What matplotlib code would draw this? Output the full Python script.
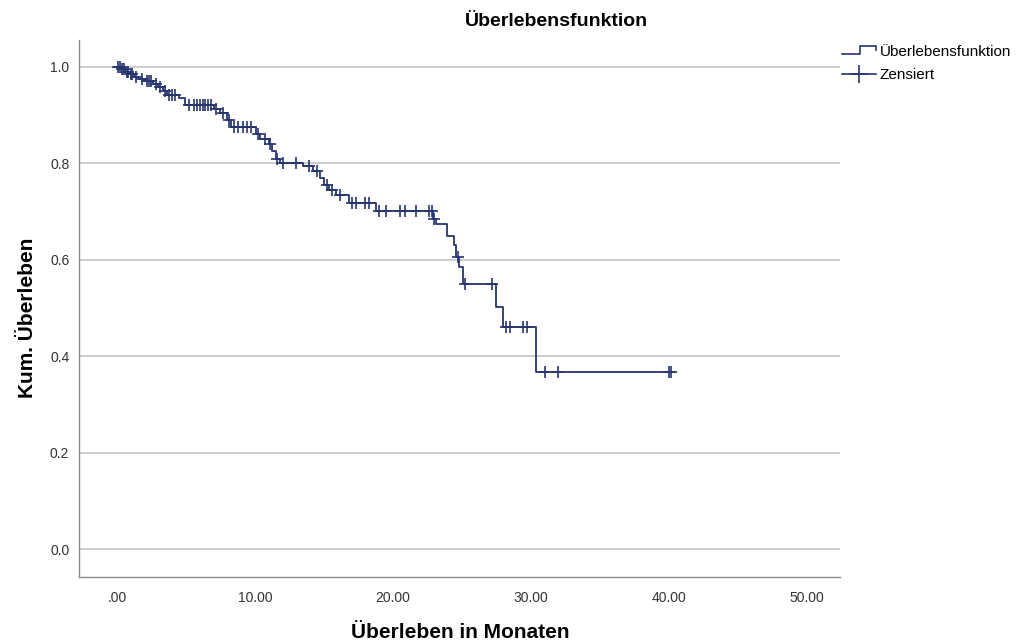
import numpy as np
import matplotlib

matplotlib.use("Agg")
import matplotlib.pyplot as plt
from matplotlib.lines import Line2D

plt.rcParams["font.family"] = ["Liberation Sans", "DejaVu Sans"]

# step times (months) and survival after each step
event_times = [0.3, 0.6, 0.9, 1.2, 1.6, 2.0, 2.6, 3.0, 3.3, 3.6, 4.5, 4.9,
               7.0, 7.5, 8.0, 8.3, 10.1, 10.4, 11.0, 11.2, 11.5, 11.8,
               13.5, 14.2, 14.7, 15.0, 15.4, 15.9, 16.8, 18.8, 22.9, 23.1,
               23.9, 24.4, 24.6, 24.8, 25.1, 27.5, 28.0, 30.4]
survival = [0.995, 0.99, 0.985, 0.98, 0.975, 0.97, 0.965, 0.958, 0.95, 0.942,
            0.935, 0.921, 0.913, 0.905, 0.89, 0.875, 0.86, 0.851, 0.84, 0.825,
            0.81, 0.80, 0.795, 0.785, 0.77, 0.755, 0.745, 0.735, 0.718, 0.701,
            0.685, 0.675, 0.65, 0.63, 0.605, 0.585, 0.55, 0.503, 0.46, 0.367]

censored = [0.1, 0.2, 0.4, 0.5, 0.7, 0.8, 1.0, 1.1, 1.4, 1.8, 2.2, 2.3, 2.5,
            2.8, 3.1, 3.5, 3.8, 4.0, 4.2, 5.2, 5.6, 5.8, 6.0, 6.2, 6.4, 6.6,
            6.8, 7.2, 7.7, 8.1, 8.5, 8.8, 9.1, 9.4, 9.7, 10.2, 10.7, 11.1,
            11.6, 12.0, 13.0, 13.9, 14.5, 15.2, 15.6, 16.2, 17.0, 17.3, 18.0,
            18.3, 19.0, 19.5, 20.5, 20.9, 21.7, 22.6, 22.85, 23.0, 24.7, 25.2,
            27.2, 28.2, 28.5, 29.4, 29.7, 31.0, 32.0, 40.0, 40.15]

x_ticks = [0, 10, 20, 30, 40, 50]
x_labels = [".00", "10.00", "20.00", "30.00", "40.00", "50.00"]
y_ticks = [0.0, 0.2, 0.4, 0.6, 0.8, 1.0]

navy = "#27356f"

t = np.concatenate([[0.0], event_times, [max(censored)]])
s = np.concatenate([[1.0], survival, [survival[-1]]])
cens_y = s[np.searchsorted(t, censored, side="right") - 1]

W, H = 1029, 644
def fx(px):
    return px / W
def fy(py):
    return 1 - py / H

fig = plt.figure(figsize=(10.29, 6.44), dpi=100)
ax = fig.add_axes([0.0768, 0.104, 0.7395, 0.834])

ax.step(t, s, where="post", color=navy, lw=1.3, zorder=3)
ax.plot(censored, cens_y, ls="none", marker="+", ms=8.5, mew=1.2, color=navy, zorder=4)

ax.set_xlim(-2.75, 52.4)
ax.set_ylim(-0.058, 1.056)
ax.set_xticks(x_ticks)
ax.set_xticklabels(x_labels)
ax.set_yticks(y_ticks)
ax.set_yticklabels([f"{v:.1f}" for v in y_ticks])
ax.tick_params(length=0, labelsize=10, labelcolor="#333333")
ax.tick_params(axis="x", pad=10)
ax.tick_params(axis="y", pad=7)
ax.grid(axis="y", color="#c4c4c4", lw=1.2)
ax.set_axisbelow(True)
for side in ("top", "right"):
    ax.spines[side].set_visible(False)
for side in ("left", "bottom"):
    ax.spines[side].set_color("#8a8a8a")
    ax.spines[side].set_linewidth(1.0)

fig.text(fx(460), fy(632), "Überleben in Monaten", ha="center", va="center",
         fontsize=15, fontweight="bold")
fig.text(fx(28), fy(318), "Kum. Überleben", ha="center", va="center",
         rotation=90, fontsize=15, fontweight="bold")
fig.text(fx(556), fy(22), "Überlebensfunktion", ha="center", va="center",
         fontsize=14, fontweight="bold")

# legend drawn by hand in figure pixels
fig.add_artist(Line2D([fx(842), fx(860), fx(860), fx(876), fx(876)],
                      [fy(54), fy(54), fy(46), fy(46), fy(50)],
                      color=navy, lw=1.2))
fig.text(fx(880), fy(52), "Überlebensfunktion", ha="left", va="center", fontsize=11)
fig.add_artist(Line2D([fx(842), fx(876)], [fy(74), fy(74)], color=navy, lw=1.2))
fig.add_artist(Line2D([fx(859)], [fy(74)], marker="+", ms=13, mew=1.2, color=navy))
fig.text(fx(880), fy(75), "Zensiert", ha="left", va="center", fontsize=11)

fig.savefig("out.png", dpi=100)
